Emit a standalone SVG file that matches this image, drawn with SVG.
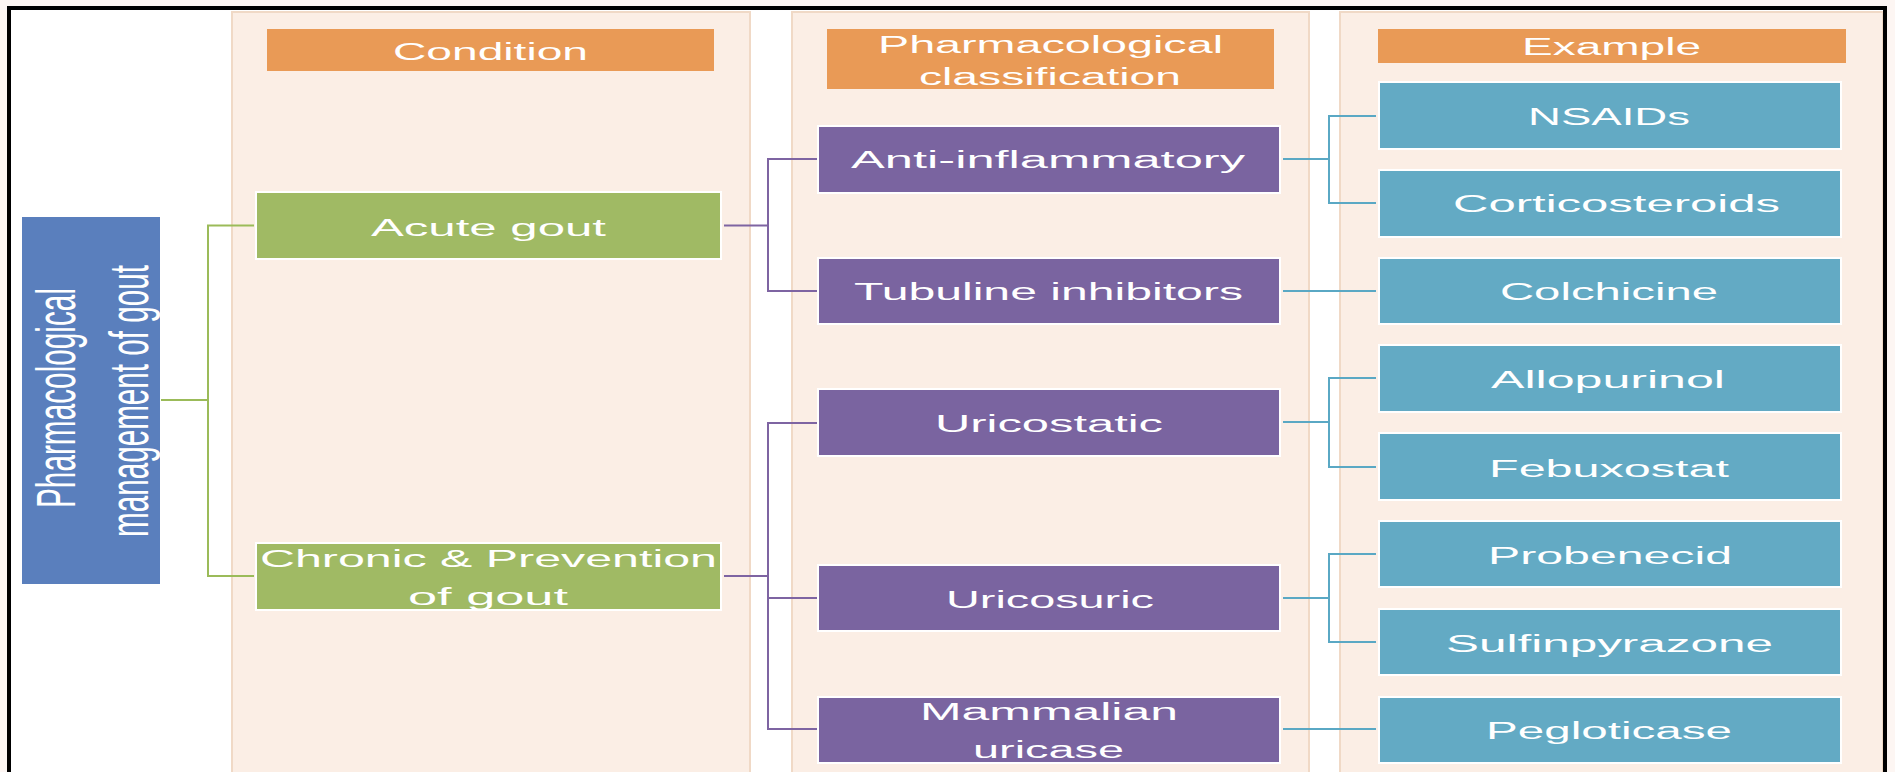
<svg xmlns="http://www.w3.org/2000/svg" width="1895" height="772" viewBox="0 0 1895 772">
<style>
.col{fill:#FBEEE5;stroke:#F0D9C6;stroke-width:2}
.hdr{fill:#E99A56}
.grn{fill:#A0BA64;stroke:#fff;stroke-width:2}
.pur{fill:#7A64A0;stroke:#fff;stroke-width:2}
.tea{fill:#63AAC4;stroke:#fff;stroke-width:2}
.blu{fill:#5A7FBD}
text{font-family:"Liberation Sans",Arial,sans-serif;font-size:23px;fill:#fff;text-anchor:middle}
.rot{font-size:55px}
.cg{fill:none;stroke:#9BBB59;stroke-width:2}
.cp{fill:none;stroke:#7E64A2;stroke-width:2}
.ct{fill:none;stroke:#5AA8C4;stroke-width:2}
</style>
<rect x="0" y="0" width="1895" height="772" fill="#FDF6F3"/>
<rect x="9" y="8" width="1876" height="770" fill="#fff"/>
<g id="columns">
<rect class="col" x="232" y="12" width="518" height="770"/>
<rect class="col" x="792" y="12" width="517" height="770"/>
<rect class="col" x="1340" y="12" width="543" height="770"/>
</g>
<path d="M9,772 V8 H1885 V772" fill="none" stroke="#000" stroke-width="4"/>
<g id="connectors">
<path class="cg" d="M161,400 H208 M254,225.5 H208 V576 H254"/>
<path class="cp" d="M724,225.5 H768 M817,159 H768 V291 H817 M724,576 H768 M817,423 H768 V729 H817 M768,598 H817"/>
<path class="ct" d="M1283,159 H1329 M1376,116 H1329 V203 H1376 M1283,291 H1376 M1283,422 H1329 M1376,378 H1329 V467 H1376 M1283,598 H1329 M1376,554 H1329 V642 H1376 M1283,729 H1376"/>
</g>
<g id="hdr-condition"><rect class="hdr" x="267" y="29" width="447" height="42"/><text x="490.5" y="60" textLength="195" lengthAdjust="spacingAndGlyphs">Condition</text></g>
<g id="hdr-class"><rect class="hdr" x="827" y="29" width="447" height="60"/><text x="1050.5" y="53" textLength="345" lengthAdjust="spacingAndGlyphs">Pharmacological</text><text x="1050" y="85" textLength="262" lengthAdjust="spacingAndGlyphs">classification</text></g>
<g id="hdr-example"><rect class="hdr" x="1378" y="29" width="468" height="34"/><text x="1611.5" y="55" textLength="179" lengthAdjust="spacingAndGlyphs">Example</text></g>
<g id="root"><rect class="blu" x="22" y="217" width="138" height="367"/>
<text class="rot" transform="translate(75,398) rotate(-90)" textLength="220" lengthAdjust="spacingAndGlyphs">Pharmacological</text>
<text class="rot" transform="translate(148,401) rotate(-90)" textLength="272" lengthAdjust="spacingAndGlyphs">management of gout</text></g>
<g id="acute"><rect class="grn" x="256" y="192" width="465" height="67"/><text x="488.5" y="236" textLength="235" lengthAdjust="spacingAndGlyphs">Acute  gout</text></g>
<g id="chronic"><rect class="grn" x="256" y="543" width="465" height="67"/><text x="488.5" y="567" textLength="457" lengthAdjust="spacingAndGlyphs">Chronic &amp; Prevention</text><text x="488" y="605" textLength="160" lengthAdjust="spacingAndGlyphs">of  gout</text></g>
<g id="antiinflammatory"><rect class="pur" x="818" y="126" width="462" height="67"/><text x="1048" y="168" textLength="394" lengthAdjust="spacingAndGlyphs">Anti-inflammatory</text></g>
<g id="tubuline"><rect class="pur" x="818" y="258" width="462" height="66"/><text x="1048.5" y="300" textLength="389" lengthAdjust="spacingAndGlyphs">Tubuline inhibitors</text></g>
<g id="uricostatic"><rect class="pur" x="818" y="389" width="462" height="67"/><text x="1049" y="432" textLength="228" lengthAdjust="spacingAndGlyphs">Uricostatic</text></g>
<g id="uricosuric"><rect class="pur" x="818" y="565" width="462" height="66"/><text x="1050" y="608" textLength="208" lengthAdjust="spacingAndGlyphs">Uricosuric</text></g>
<g id="mammalian"><rect class="pur" x="818" y="697" width="462" height="66"/><text x="1049" y="720" textLength="258" lengthAdjust="spacingAndGlyphs">Mammalian</text><text x="1048.5" y="758" textLength="151" lengthAdjust="spacingAndGlyphs">uricase</text></g>
<g id="nsaids"><rect class="tea" x="1379" y="82" width="462" height="67"/><text x="1609" y="125" textLength="162" lengthAdjust="spacingAndGlyphs">NSAIDs</text></g>
<g id="corticosteroids"><rect class="tea" x="1379" y="170" width="462" height="67"/><text x="1616.5" y="212" textLength="327" lengthAdjust="spacingAndGlyphs">Corticosteroids</text></g>
<g id="colchicine"><rect class="tea" x="1379" y="258" width="462" height="66"/><text x="1609" y="300" textLength="218" lengthAdjust="spacingAndGlyphs">Colchicine</text></g>
<g id="allopurinol"><rect class="tea" x="1379" y="345" width="462" height="67"/><text x="1608" y="388" textLength="234" lengthAdjust="spacingAndGlyphs">Allopurinol</text></g>
<g id="febuxostat"><rect class="tea" x="1379" y="433" width="462" height="67"/><text x="1609" y="477" textLength="240" lengthAdjust="spacingAndGlyphs">Febuxostat</text></g>
<g id="probenecid"><rect class="tea" x="1379" y="521" width="462" height="66"/><text x="1610" y="564" textLength="244" lengthAdjust="spacingAndGlyphs">Probenecid</text></g>
<g id="sulfinpyrazone"><rect class="tea" x="1379" y="609" width="462" height="66"/><text x="1609.5" y="652" textLength="327" lengthAdjust="spacingAndGlyphs">Sulfinpyrazone</text></g>
<g id="pegloticase"><rect class="tea" x="1379" y="697" width="462" height="66"/><text x="1609" y="739" textLength="246" lengthAdjust="spacingAndGlyphs">Pegloticase</text></g>
</svg>
